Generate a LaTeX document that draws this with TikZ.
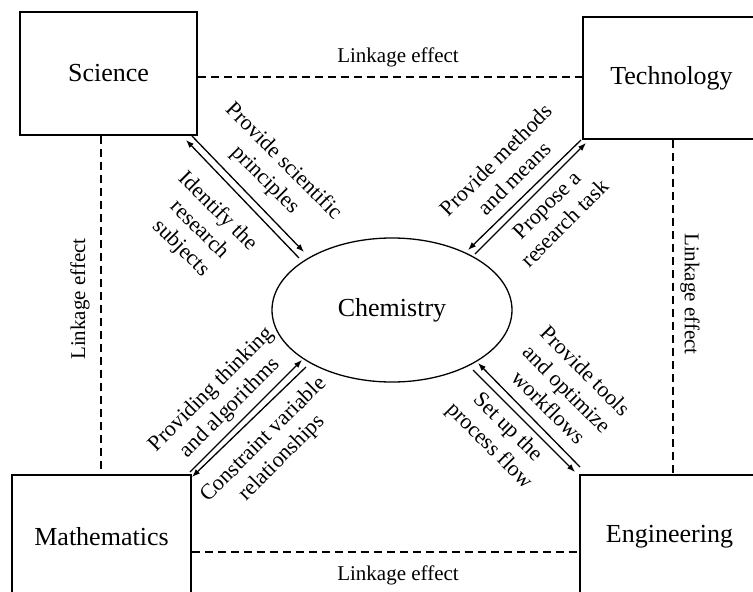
\documentclass[tikz,border=0pt]{standalone}
\usepackage{fontspec}
\setmainfont{Liberation Serif}
\usetikzlibrary{arrows.meta,shapes.geometric}
\begin{document}
\begin{tikzpicture}[x=1pt,y=-1pt,
  box/.style={draw, line width=1.5pt, minimum width=177pt, minimum height=123pt, inner sep=0pt, font=\fontsize{26}{30}\selectfont},
  chemstyle/.style={draw, ellipse, line width=1.3pt, minimum width=240pt, minimum height=144pt, inner sep=0pt, font=\fontsize{26}{30}\selectfont},
  link/.style={line width=1.3pt, dash pattern=on 8pt off 5pt},
  arr/.style={line width=1.3pt, -{Latex[length=8pt,width=6pt]}},
  lbl/.style={align=center, inner sep=0pt, font=\fontsize{22}{26}\selectfont},
  lk/.style={inner sep=0pt, font=\fontsize{21}{24}\selectfont}
]
\useasboundingbox (0,0) rectangle (753,592);
% boxes
\node[box] (sci) at (108.5,73.5) {Science};
\node[box, minimum height=122pt] (tech) at (671.5,78) {Technology};
\node[box, minimum width=179pt] (math) at (101.5,536.5) {Mathematics};
\node[box, minimum width=179pt] (eng) at (669.5,536.5) {Engineering};
\node[chemstyle] (chem) at (392,310) {Chemistry};
% linkage dashed lines
\coordinate (ty) at (0,77);
\coordinate (by) at (0,552);
\coordinate (lx) at (101,0);
\coordinate (rx) at (673,0);
\draw[link] (sci.east |- ty) -- (tech.west |- ty);
\draw[link] (math.east |- by) -- (eng.west |- by);
\draw[link] (lx |- sci.south) -- (lx |- math.north);
\draw[link] (rx |- tech.south) -- (rx |- eng.north);
\node[lk] (lkt) at (398,57) {Linkage effect};
\node[lk] (lkb) at (398,575) {Linkage effect};
\node[lk, rotate=90] (lkl) at (80,299) {Linkage effect};
\node[lk, rotate=-90] (lkr) at (690,294) {Linkage effect};
% arrow end points
\coordinate (sA1) at (192,136); \coordinate (cA1) at (304,252);
\coordinate (cB1) at (299,258); \coordinate (sB1) at (186,140);
\coordinate (tC1) at (581,140); \coordinate (cC1) at (468,250);
\coordinate (cD1) at (475,254); \coordinate (tD1) at (586,143);
\coordinate (mE1) at (190,472); \coordinate (cE1) at (302,360);
\coordinate (cF1) at (306,367); \coordinate (mF1) at (192,477);
\coordinate (eG1) at (580,467); \coordinate (cG1) at (478,363);
\coordinate (cH1) at (473,370); \coordinate (eH1) at (575,472);
\draw[arr] (sA1) -- (cA1);
\draw[arr] (cB1) -- (sB1);
\draw[arr] (tC1) -- (cC1);
\draw[arr] (cD1) -- (tD1);
\draw[arr] (mE1) -- (cE1);
\draw[arr] (cF1) -- (mF1);
\draw[arr] (eG1) -- (cG1);
\draw[arr] (cH1) -- (eH1);
% labels
\node[lbl, rotate=-45] (l1) at (274,171) {Provide scientific\\principles};
\node[lbl, rotate=-45] (l2) at (199,230) {Identify the\\research\\subjects};
\node[lbl, rotate=45] (l3) at (505,169) {Provide methods\\and means};
\node[lbl, rotate=45] (l4) at (556,214) {Propose a\\research task};
\node[lbl, rotate=45] (l5) at (221,399) {Providing thinking\\and algorithms};
\node[lbl, rotate=45] (l6) at (273,449) {Constraint variable\\relationships};
\node[lbl, rotate=-45] (l7) at (567,389) {Provide tools\\and optimize\\workflows};
\node[lbl, rotate=-45] (l8) at (498,437) {Set up the\\process flow};
\end{tikzpicture}
\end{document}
